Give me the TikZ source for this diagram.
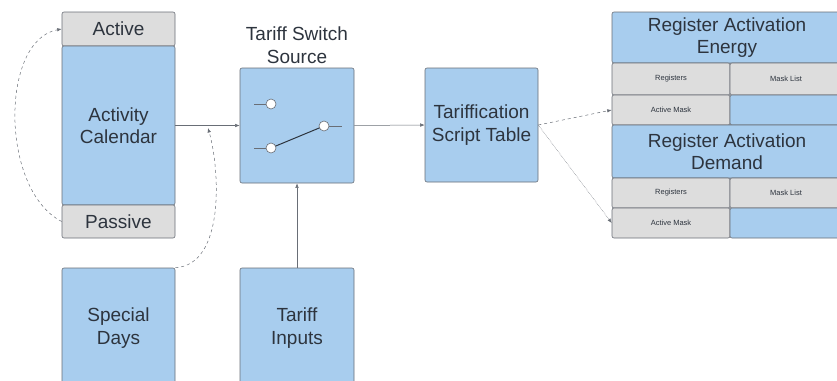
\documentclass[tikz,border=0pt]{standalone}
\usepackage{fontspec}
\setmainfont{Liberation Sans}
\usepackage{xcolor}
\usepackage{tikz}
\usetikzlibrary{arrows.meta,positioning}
\definecolor{boxblue}{RGB}{168,205,238}
\definecolor{cellgrey}{RGB}{221,221,221}
\definecolor{edge}{RGB}{105,110,118}
\definecolor{ink}{RGB}{45,52,62}

\begin{document}
\begin{tikzpicture}[x=1pt,y=-1pt,
      font=\fontsize{19}{22.5}\selectfont,text=ink,
      blk/.style={draw=edge,fill=boxblue,rounded corners=2pt,align=center,inner sep=0pt,line width=0.6pt},
      gry/.style={blk,fill=cellgrey},
      sml/.style={font=\fontsize{7.5}{8}\selectfont},
      conn/.style={draw=edge,line width=0.5pt,-{Latex[length=4.5pt,width=3.5pt]}},
      dsh/.style={conn,dashed}]
    \useasboundingbox (0,0) rectangle (837,380);
    % activity calendar column
    \node[gry,minimum width=113pt,minimum height=34pt]  (act) at (118.5,29)    {Active};
    \node[blk,minimum width=113pt,minimum height=159pt] (cal) at (118.5,125.5) {Activity\\Calendar};
    \node[gry,minimum width=113pt,minimum height=33pt]  (pas) at (118.5,221.5) {Passive};
    \node[blk,minimum width=113pt,minimum height=120pt] (spd) at (118.5,328)   {Special\\Days};
    % switch
    \node[align=center] (swl) at (297,45) {Tariff Switch\\Source};
    \node[blk,minimum width=114pt,minimum height=115pt] (sw) at (297,125.5) {};
    \draw[edge,line width=0.6pt] (254,104) -- (266,104) (254,148) -- (266,148) (329,126) -- (342,126);
    \draw[ink,line width=1pt] (271,148) -- (324,126);
    \draw[edge,fill=white,line width=0.6pt] (271,104) circle (5) (271,148) circle (5) (324,126) circle (5);
    \node[blk,minimum width=114pt,minimum height=120pt] (tin) at (297,328) {Tariff\\Inputs};
    % script table
    \node[blk,minimum width=113pt,minimum height=114pt] (tst) at (481.5,125) {Tariffication\\Script Table};
    % register activation energy
    \node[blk,minimum width=230pt,minimum height=51pt] (rae) at (727,37.5) {Register Activation\\Energy};
    \node[gry,sml,minimum width=118pt,minimum height=32pt] (reg1) at (671,79)  {Registers};
    \node[gry,sml,minimum width=112pt,minimum height=32pt] (msk1) at (786,79)  {Mask List};
    \node[gry,sml,minimum width=118pt,minimum height=30pt] (am1)  at (671,110) {Active Mask};
    \node[blk,minimum width=112pt,minimum height=30pt]     (bl1)  at (786,110) {};
    % register activation demand
    \node[blk,minimum width=230pt,minimum height=53pt] (rad) at (727,151.5) {Register Activation\\Demand};
    \node[gry,sml,minimum width=118pt,minimum height=30pt] (reg2) at (671,193) {Registers};
    \node[gry,sml,minimum width=112pt,minimum height=30pt] (msk2) at (786,193) {Mask List};
    \node[gry,sml,minimum width=118pt,minimum height=30pt] (am2)  at (671,223) {Active Mask};
    \node[blk,minimum width=112pt,minimum height=30pt]     (bl2)  at (786,223) {};
    % connectors
    \coordinate (mrg) at (208,128);
    \draw[conn] (cal.east) -- (sw.west);
    \draw[conn] (sw.east) -- (tst.west);
    \draw[conn] (tin.north) -- (sw.south);
    \draw[dsh] (pas.west) .. controls (0,190) and (0,40) .. (act.west);
    \draw[dsh] (spd.north east) .. controls (225,265) and (220,170) .. (mrg);
    \draw[dsh] (tst.east) -- (am1.west);
    \draw[conn,densely dotted] (tst.east) -- (am2.west);
\end{tikzpicture}
\end{document}
